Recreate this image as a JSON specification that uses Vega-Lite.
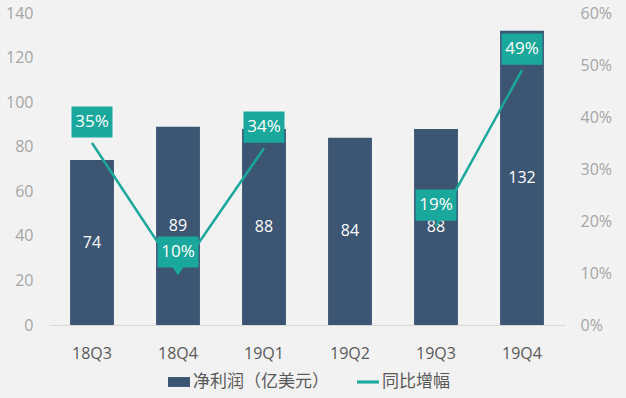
{
  "$schema": "https://vega.github.io/schema/vega-lite/v6.json",
  "width": 516,
  "height": 312,
  "autosize": {"type": "none"},
  "padding": {"left": 49, "top": 13, "right": 61, "bottom": 73},
  "background": "#f2f2f2",
  "config": {"view": {"stroke": null}, "font": "Open Sans"},
  "data": {
    "values": [
      {"q": "18Q3", "net": 74, "yoy": 0.35},
      {"q": "18Q4", "net": 89, "yoy": 0.10},
      {"q": "19Q1", "net": 88, "yoy": 0.34},
      {"q": "19Q2", "net": 84, "yoy": null},
      {"q": "19Q3", "net": 88, "yoy": 0.19},
      {"q": "19Q4", "net": 132, "yoy": 0.49}
    ]
  },
  "encoding": {
    "x": {
      "field": "q",
      "type": "nominal",
      "sort": null,
      "scale": {"paddingInner": 0.49, "paddingOuter": 0.245},
      "axis": {
        "title": null,
        "labelAngle": 0,
        "ticks": false,
        "domain": true,
        "domainColor": "#d9d9d9",
        "domainWidth": 1,
        "labelFont": "Open Sans",
        "labelFontSize": 16,
        "labelColor": "#595959",
        "labelPadding": 20,
        "grid": false
      }
    }
  },
  "layer": [
    {
      "layer": [
        {
          "mark": {"type": "bar"},
          "encoding": {
            "y": {
              "field": "net",
              "type": "quantitative",
              "scale": {"domain": [0, 140]},
              "axis": {
                "title": null,
                "values": [0, 20, 40, 60, 80, 100, 120, 140],
                "domain": false,
                "ticks": false,
                "grid": false,
                "labelFont": "Open Sans",
                "labelColor": "#a6a6a6",
                "labelFontSize": 16,
                "labelPadding": 16
              }
            },
            "color": {
              "datum": "净利润（亿美元）",
              "scale": {
                "domain": ["净利润（亿美元）", "同比增幅"],
                "range": ["#3b5573", "#1ba89c"]
              },
              "legend": {
                "title": null,
                "orient": "none",
                "legendX": 119,
                "legendY": 358,
                "direction": "horizontal",
                "labelFont": "Noto Sans CJK SC",
                "labelFontSize": 17,
                "labelColor": "#595959",
                "labelOffset": 3,
                "columnPadding": 28,
                "symbolSize": 484,
                "encode": {
                  "symbols": {
                    "update": {
                      "shape": {"signal": "datum.value === '同比增幅' ? 'M-1,-0.14H1V0.14H-1Z' : 'M-1,-0.45H1V0.45H-1Z'"},
                      "fill": {"signal": "datum.value === '同比增幅' ? '#1ba89c' : '#3b5573'"},
                      "stroke": {"value": "transparent"},
                      "strokeWidth": {"value": 0},
                      "opacity": {"value": 1}
                    }
                  }
                }
              }
            }
          }
        },
        {
          "transform": [{"calculate": "datum.net / 2", "as": "mid"}],
          "mark": {"type": "text", "color": "white", "fontSize": 16, "baseline": "middle", "font": "Open Sans"},
          "encoding": {
            "y": {"field": "mid", "type": "quantitative"},
            "text": {"field": "net", "type": "quantitative"}
          }
        }
      ]
    },
    {
      "layer": [
        {
          "mark": {"type": "line", "color": "#1ba89c", "strokeWidth": 2.5, "invalid": "break-paths-show-domains"},
          "encoding": {
            "y": {
              "field": "yoy",
              "type": "quantitative",
              "scale": {"domain": [0, 0.6]},
              "axis": {
                "title": null,
                "orient": "right",
                "format": ".0%",
                "values": [0, 0.1, 0.2, 0.3, 0.4, 0.5, 0.6],
                "domain": false,
                "ticks": false,
                "grid": false,
                "labelFont": "Open Sans",
                "labelColor": "#a6a6a6",
                "labelFontSize": 16,
                "labelPadding": 15
              }
            },
            "color": {"datum": "同比增幅"}
          }
        },
        {
          "transform": [{"filter": "datum.yoy != null"}],
          "mark": {
            "type": "point",
            "filled": true,
            "opacity": 1,
            "color": "#1ba89c",
            "size": 1681,
            "shape": "M-1,-0.76H1V0.76H-1Z",
            "yOffset": -21
          },
          "encoding": {
            "y": {"field": "yoy", "type": "quantitative"}
          }
        },
        {
          "transform": [{"filter": "datum.q == '18Q4'"}],
          "mark": {
            "type": "point",
            "filled": true,
            "opacity": 1,
            "color": "#1ba89c",
            "size": 1681,
            "shape": "M-0.18,0.7H0.18L0,1.02Z",
            "yOffset": -21
          },
          "encoding": {
            "y": {"field": "yoy", "type": "quantitative"}
          }
        },
        {
          "transform": [{"filter": "datum.yoy != null"}],
          "mark": {"type": "text", "color": "white", "fontSize": 17, "baseline": "middle", "yOffset": -21, "font": "Open Sans"},
          "encoding": {
            "y": {"field": "yoy", "type": "quantitative"},
            "text": {"field": "yoy", "type": "quantitative", "format": ".0%"}
          }
        }
      ]
    }
  ],
  "resolve": {"scale": {"y": "independent"}}
}
